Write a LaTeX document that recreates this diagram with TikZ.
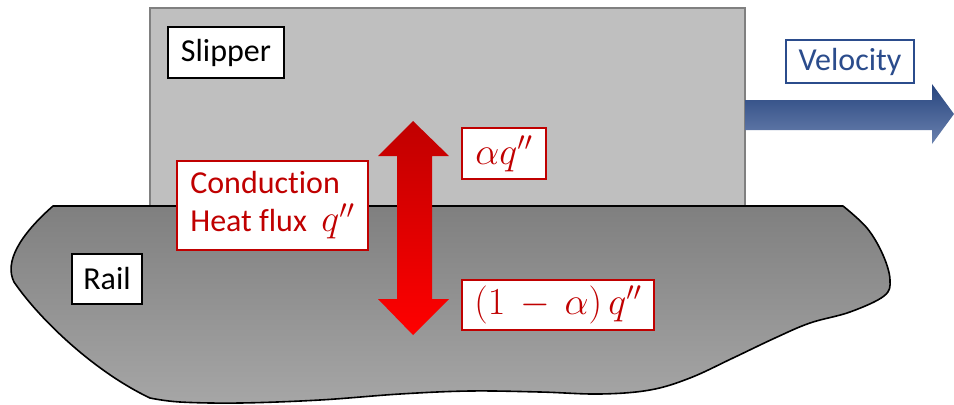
\documentclass[tikz,border=0pt]{standalone}
\usepackage{fontspec}
\setmainfont[Ligatures=NoCommon]{Carlito}
\usetikzlibrary{arrows}
\definecolor{slipgray}{HTML}{BFBFBF}
\definecolor{darkred}{HTML}{C00000}
\definecolor{velblue}{HTML}{2B4C8C}
\newcommand{\mathsz}[1]{\scalebox{1.15}{$#1$}}
\begin{document}
\begin{tikzpicture}[x=0.75pt,y=-0.75pt,font=\fontsize{24}{28.5}\selectfont]
		\tikzstyle{label}=[draw=black,line width=1.2pt,fill=white,inner sep=0pt]
		\tikzstyle{redlabel}=[draw=darkred,line width=1.5pt,fill=white,inner sep=0pt,text=darkred]
		\useasboundingbox (0,0) rectangle (954,404);

		% slipper and rail
		\draw[fill=slipgray,draw=black!50,line width=0.8pt] (150,8) rectangle (745,206);
		\draw[top color=black!50,bottom color=black!35,line width=1.2pt,line join=round]
			(53,206) -- (843,206)
			plot[smooth,tension=0.6] coordinates {(843,206) (867,228) (883,255) (890,280) (884,296)
				(850,312) (810,323) (775,338) (733,358) (690,378) (650,390) (600,394) (540,392)
				(470,391) (400,394) (320,400) (240,403) (180,402) (150,398)}
			.. controls (95,372) and (40,320) .. (14,282)
			.. controls (4,262) and (20,235) .. (53,206) -- cycle;

		% heat flux and velocity arrows
		\shade[top color=darkred,bottom color=red]
			(413,121) -- (449,156) -- (432,156) -- (432,299) -- (449,299) -- (413,335)
			-- (378,299) -- (397,299) -- (397,156) -- (378,156) -- cycle;
		\shade[top color=velblue!90!black,bottom color=velblue!70!white]
			(745,100) -- (932,100) -- (932,84) -- (954,114) -- (932,144) -- (932,130)
			-- (745,130) -- cycle;

		\node[label,minimum width=116pt*0.75,minimum height=51pt*0.75] (slipper) at (226,52.5) {Slipper};
		\node[label,minimum width=70pt*0.75,minimum height=50pt*0.75] (rail) at (107,279) {Rail};
		\node[label,draw=velblue,text=velblue,line width=1pt,minimum width=128pt*0.75,minimum height=43pt*0.75] (velocity) at (850,61.5) {Velocity};
		\node[redlabel,minimum width=191pt*0.75,minimum height=89pt*0.75,align=left] (flux) at (272.5,205.5)
			{Conduction\\Heat flux\ \ \mathsz{q''}};
		\node[redlabel,minimum width=84pt*0.75,minimum height=51pt*0.75] (upper) at (504,153.5) {\mathsz{\alpha q''}};
		\node[redlabel,minimum width=192pt*0.75,minimum height=50pt*0.75] (lower) at (558,305) {\mathsz{(1\,-\,\alpha)\,q''}};
\end{tikzpicture}
\end{document}
